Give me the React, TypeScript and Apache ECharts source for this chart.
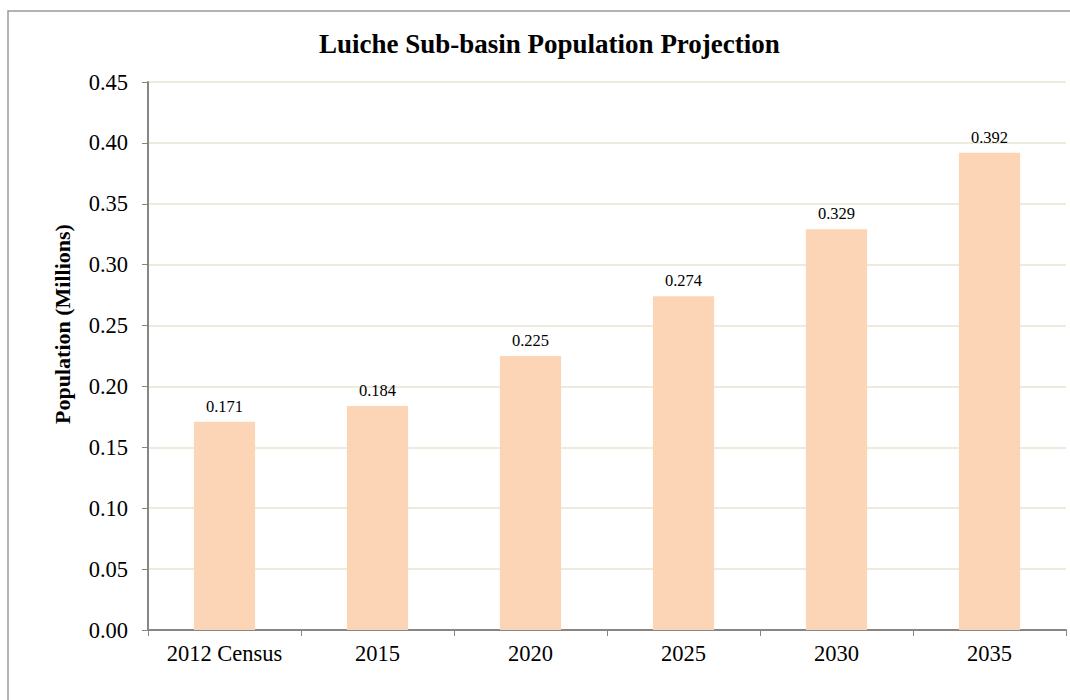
import React, { useEffect, useRef } from "react";
import * as echarts from "echarts";

const categories = ["2012 Census", "2015", "2020", "2025", "2030", "2035"];
const population = [0.171, 0.184, 0.225, 0.274, 0.329, 0.392];
const titleText = "Luiche Sub-basin Population Projection";
const yAxisName = "Population (Millions)";

const FONT = "'Liberation Serif', 'Times New Roman', serif";

export default function App() {
  const ref = useRef<HTMLDivElement>(null);
  useEffect(() => {
    if (!ref.current) return;
    const chart = echarts.init(ref.current, undefined, { renderer: "svg" });
    chart.setOption({
      animation: false,
      backgroundColor: "#ffffff",
      textStyle: { fontFamily: FONT },
      title: {
        text: titleText,
        left: 314,
        top: 25,
        textStyle: { fontFamily: FONT, fontSize: 27, fontWeight: "bold", color: "#000" },
      },
      graphic: [
        {
          type: "rect",
          shape: { x: 8, y: 11, width: 1090, height: 730 },
          style: { fill: "none", stroke: "#9a9a9a", lineWidth: 1.5 },
          silent: true,
          z: 100,
        },
        {
          type: "text",
          x: 62,
          y: 324,
          rotation: Math.PI / 2,
          silent: true,
          style: {
            text: yAxisName,
            fontFamily: FONT,
            fontSize: 22,
            fontWeight: "bold",
            fill: "#000",
            align: "center",
            verticalAlign: "middle",
          },
        },
      ],
      grid: { left: 148, right: 4, top: 82, bottom: 70, containLabel: false },
      xAxis: {
        type: "category",
        data: categories,
        boundaryGap: true,
        axisLine: { lineStyle: { color: "#868686", width: 2 } },
        axisTick: { show: true, length: 6, alignWithLabel: false, lineStyle: { color: "#868686", width: 1 } },
        axisLabel: { fontFamily: FONT, fontSize: 22.5, color: "#000", margin: 12 },
        splitLine: { show: false },
      },
      yAxis: {
        type: "value",
        min: 0,
        max: 0.45,
        interval: 0.05,
        axisLine: { show: true, lineStyle: { color: "#868686", width: 2 } },
        axisTick: { show: true, length: 6, lineStyle: { color: "#868686", width: 1 } },
        axisLabel: {
          fontFamily: FONT,
          fontSize: 22.5,
          color: "#000",
          margin: 20,
          formatter: (v: number) => v.toFixed(2),
        },
        splitLine: { show: true, lineStyle: { color: "#e9e4d2", width: 1.5 } },
      },
      series: [
        {
          type: "bar",
          data: population,
          barWidth: "40%",
          itemStyle: { color: "#fbd5b5" },
          label: {
            show: true,
            position: "top",
            distance: 7,
            fontFamily: FONT,
            fontSize: 16.5,
            color: "#000",
            formatter: (p: any) => p.value.toFixed(3),
          },
        },
      ],
    });
    return () => chart.dispose();
  }, []);
  return (
    <div
      ref={ref}
      style={{ position: "fixed", left: 0, top: 0, width: 1070, height: 700, background: "#fff" }}
    />
  );
}
